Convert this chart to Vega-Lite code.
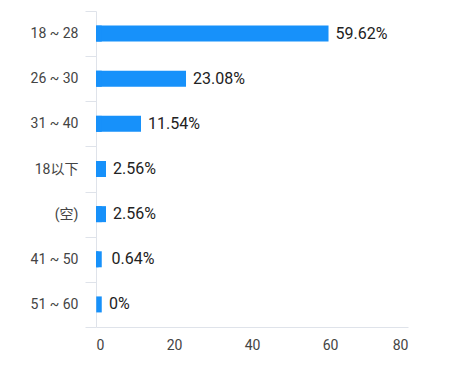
{
  "$schema": "https://vega.github.io/schema/vega-lite/v6.json",
  "width": 312,
  "height": 316,
  "autosize": {"type": "none"},
  "padding": {"left": 96, "top": 11, "right": 67, "bottom": 44},
  "background": "white",
  "config": {"view": {"stroke": null}, "font": "Roboto, Noto Sans CJK SC"},
  "data": {
    "values": [
      {"age": "18 ~ 28", "pct": 0.5962},
      {"age": "26 ~ 30", "pct": 0.2308},
      {"age": "31 ~ 40", "pct": 0.1154},
      {"age": "18以下", "pct": 0.0256},
      {"age": "(空)", "pct": 0.0256},
      {"age": "41 ~ 50", "pct": 0.0064},
      {"age": "51 ~ 60", "pct": 0}
    ]
  },
  "encoding": {
    "y": {
      "field": "age",
      "type": "nominal",
      "sort": null,
      "scale": {"paddingInner": 0, "paddingOuter": 0},
      "axis": {
        "title": null,
        "tickBand": "extent",
        "tickSize": 11,
        "tickColor": "#dfe3ea",
        "domainColor": "#dfe3ea",
        "labelPadding": 7,
        "labelFontSize": 14,
        "labelColor": "#444444",
        "labelFont": "Roboto, Noto Sans CJK SC"
      }
    }
  },
  "layer": [
    {
      "mark": {"type": "bar", "size": 16, "color": "#1791fa"},
      "encoding": {
        "x": {
          "field": "pct",
          "type": "quantitative",
          "scale": {"domain": [0, 0.8], "nice": false},
          "axis": {
            "title": null,
            "values": [0, 0.2, 0.4, 0.6, 0.8],
            "ticks": false,
            "grid": false,
            "domainColor": "#dfe3ea",
            "labelPadding": 11,
            "labelFontSize": 14,
            "labelColor": "#444444",
            "labelExpr": "round(datum.value*100)"
          }
        }
      }
    },
    {
      "mark": {"type": "tick", "thickness": 5.5, "size": 16, "xOffset": 3, "color": "#1791fa", "opacity": 1},
      "encoding": {"x": {"datum": 0}}
    },
    {
      "mark": {"type": "text", "align": "left", "baseline": "middle", "dx": {"expr": "datum.pct < 0.02 ? 13 : 7"}, "fontSize": 16, "color": "#222222"},
      "encoding": {
        "x": {"field": "pct", "type": "quantitative"},
        "text": {"field": "pct", "format": ".2~%"}
      }
    }
  ]
}
